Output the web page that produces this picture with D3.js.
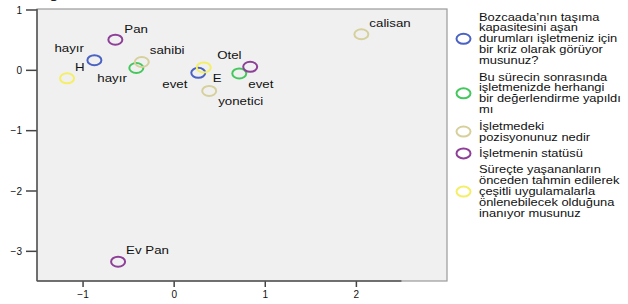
<!DOCTYPE html>
<html><head><meta charset="utf-8">
<script src="https://cdn.jsdelivr.net/npm/d3@7"></script>
<style>body{margin:0;background:#fff;} svg{display:block;font-family:"Liberation Sans",Arial,sans-serif;}</style>
</head><body><svg id="c" width="628" height="304"></svg>
<script>
// Data
const legendLines = [
  ["Bozcaada’nın taşıma","kapasitesini aşan","durumları işletmeniz için","bir kriz olarak görüyor","musunuz?"],
  ["Bu sürecin sonrasında","işletmenizde herhangi","bir değerlendirme yapıldı","mı"],
  ["İşletmedeki","pozisyonunuz nedir"],
  ["İşletmenin statüsü"],
  ["Süreçte yaşananların","önceden tahmin edilerek","çeşitli uygulamalarla","önlenebilecek olduğuna","inanıyor musunuz"]
];
const seriesColors = ["#4a62c4","#44c85e","#d6d09c","#8e3f98","#f4ef66"];
const pointLabels = ["hayır","evet","hayır","evet","sahibi","yonetici","calisan","Pan","Otel","Ev Pan","H","E"];
const pointSeries = [0,0,1,1,2,2,2,3,3,3,4,4];
const pointX = [-0.87,0.27,-0.41,0.72,-0.35,0.39,2.06,-0.64,0.84,-0.61,-1.17,0.33];
const pointY = [0.16,-0.05,0.03,-0.06,0.13,-0.35,0.59,0.50,0.05,-3.18,-0.14,0.04];
const xTicks = [-1,0,1,2];
const yTicks = [1,0,-1,-2,-3];

// label placement (layout only)
const labelOffsets = [[-40,-8],[-36,15],[-39,14],[9,15],[8,-8],[9,14],[8,-7],[9,-7],[-33,-8],[8,-8],[8,-7],[9,15]];

const svg = d3.select("#c");
const L=37,R=447,T=9,B=281;
const x = d3.scaleLinear().domain([-1.5,3.0]).range([L,R]);
const y = d3.scaleLinear().domain([-3.5,1.0]).range([B,T+0.5]);
const SX = 1.33;

svg.append("rect").attr("x",L).attr("y",T).attr("width",R-L).attr("height",B-T)
  .attr("fill","#f0f0f0").attr("stroke","#9a9a9a").attr("stroke-width",1.2);

// partially visible title glyph (cut off at the top, as in the reference)
svg.append("text").attr("x",49).attr("y",-2).attr("font-size",17).attr("fill","#222").text("g");

// axes
const xa = svg.append("g").attr("transform",`translate(0,${B})`)
  .call(d3.axisBottom(x).tickValues(xTicks).tickSize(6).tickPadding(4).tickFormat(d3.format("d")));
xa.select(".domain").remove();
xa.append("line").attr("x1",L).attr("x2",x(2.5)).attr("stroke","#555").attr("stroke-width",1.5);
const ya = svg.append("g").attr("transform",`translate(${L},0)`)
  .call(d3.axisLeft(y).tickValues(yTicks).tickSize(11).tickPadding(4).tickFormat(d3.format("d")));
ya.select(".domain").remove();
ya.append("line").attr("y1",B).attr("y2",T).attr("stroke","#555").attr("stroke-width",1.5);
[xa,ya].forEach(a=>{
  a.selectAll(".tick line").attr("stroke","#444").attr("stroke-width",1.5);
  a.selectAll(".tick text").attr("font-size",10).attr("fill","#111").attr("font-family","Liberation Sans, Arial, sans-serif");
});
ya.selectAll(".tick text").attr("dy","0.35em");

// points
const pts = svg.append("g");
pointX.forEach((px,i)=>{
  pts.append("ellipse").attr("cx",x(px)).attr("cy",y(pointY[i])).attr("rx",7).attr("ry",5)
    .attr("fill","none").attr("stroke",seriesColors[pointSeries[i]]).attr("stroke-width",2);
});
pointLabels.forEach((t,i)=>{
  const cx=x(pointX[i]), cy=y(pointY[i]);
  const [dx,dy]=labelOffsets[i];
  pts.append("text").attr("transform",`translate(${cx+dx},${cy+dy}) scale(${SX},1)`)
    .attr("font-size",10).attr("fill","#111").text(t);
});

// legend
const lg = svg.append("g");
let yy = 20.5;
const lineH = 10.9, gap = 5.5;
legendLines.forEach((lines,s)=>{
  const n=lines.length;
  const mid = yy + (n-1)*lineH/2 - 3.5;
  lg.append("ellipse").attr("cx",463.5).attr("cy",mid).attr("rx",7).attr("ry",5)
    .attr("fill","none").attr("stroke",seriesColors[s]).attr("stroke-width",2);
  lines.forEach((ln,j)=>{
    lg.append("text").attr("transform",`translate(479,${yy+j*lineH}) scale(1.29,1)`)
      .attr("font-size",10).attr("fill","#111").text(ln);
  });
  yy += n*lineH + gap;
});
</script></body></html>
